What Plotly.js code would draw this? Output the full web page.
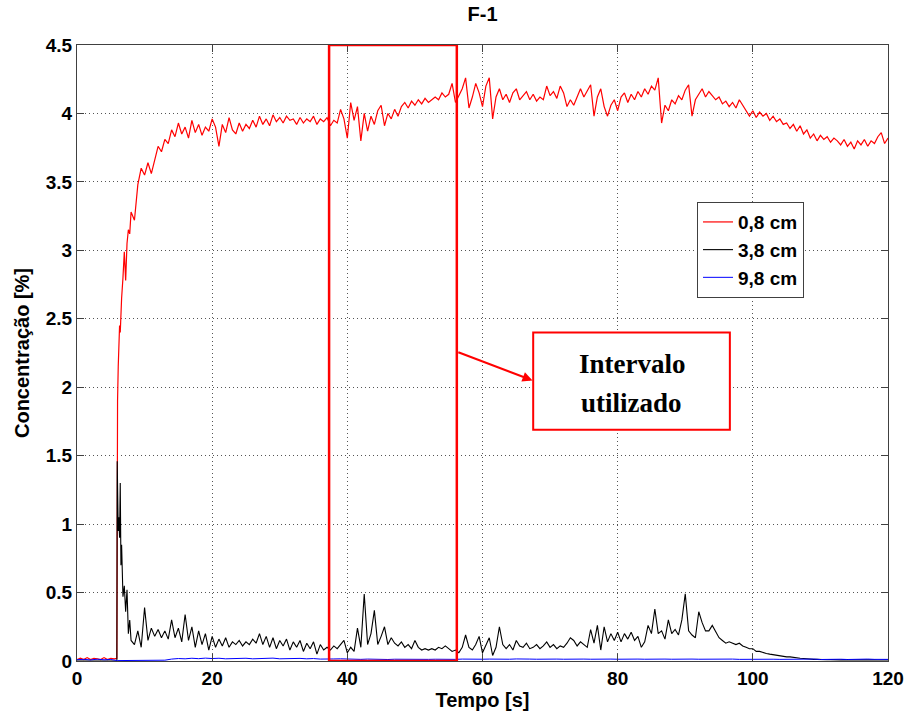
<!DOCTYPE html>
<html>
<head>
<meta charset="utf-8">
<script src="https://cdn.plot.ly/plotly-3.0.1.min.js"></script>
<style>html,body{margin:0;padding:0;background:#fff;}#chart{width:908px;height:715px;}</style>
</head>
<body>
<div id="chart"></div>
<script>
// Sampling times (s) shared by the 0,8 cm and 3,8 cm series
var times = [
0,0.5,1,1.5,2,2.5,3,3.5,4,4.5,5,5.5,
5.9,5.95,6,6.1,6.2,6.3,6.4,6.5,6.6,6.8,7,7.2,7.4,7.6,7.8,8,
8.5,9,9.5,10,
10.5,11,11.5,12,12.5,13,13.5,14,14.5,15,15.5,16,16.5,17,17.5,18,18.5,19,19.5,20,
20.5,21,21.5,22,22.5,23,23.5,24,24.5,25,25.5,26,26.5,27,27.5,28,28.5,29,29.5,30,
30.5,31,31.5,32,32.5,33,33.5,34,34.5,35,35.5,36,36.5,37,37.5,38,38.5,39,39.5,40,
40.5,41,41.5,42,42.5,43,43.5,44,44.5,45,45.5,46,46.5,47,47.5,48,48.5,49,49.5,50,
50.5,51,51.5,52,52.5,53,53.5,54,54.5,55,55.5,56,56.5,57,57.5,58,58.5,59,59.5,60,
60.5,61,61.5,62,62.5,63,63.5,64,64.5,65,65.5,66,66.5,67,67.5,68,68.5,69,69.5,70,
70.5,71,71.5,72,72.5,73,73.5,74,74.5,75,75.5,76,76.5,77,77.5,78,78.5,79,79.5,80,
80.5,81,81.5,82,82.5,83,83.5,84,84.5,85,85.5,86,86.5,87,87.5,88,88.5,89,89.5,90,
90.5,91,91.5,92,92.5,93,93.5,94,94.5,95,95.5,96,96.5,97,97.5,98,98.5,99,99.5,100,
100.5,101,101.5,102,102.5,103,103.5,104,104.5,105,105.5,106,106.5,107,107.5,108,108.5,109,109.5,110,
110.5,111,111.5,112,112.5,113,113.5,114,114.5,115,115.5,116,116.5,117,117.5,118,118.5,119,119.5,120
];

// 0,8 cm (red)
var conc08 = [
0.01,0.02,0.01,0.025,0.01,0.02,0.015,0.01,0.025,0.01,0.02,0.015,
0.02,1.45,1.9,2.15,2.3,2.45,2.4,2.6,2.65,2.8,2.99,2.78,3.05,3.15,3.12,3.28,
3.22,3.48,3.6,3.55,
3.64,3.56,3.67,3.76,3.72,3.81,3.78,3.88,3.83,3.93,3.85,3.9,3.82,3.95,3.86,3.92,3.84,3.9,3.87,3.96,
3.9,3.76,3.92,3.86,3.97,3.88,3.85,3.93,3.87,3.92,3.89,3.95,3.9,3.98,3.92,3.96,3.91,3.99,3.94,3.97,
3.93,3.98,3.95,3.96,3.92,3.97,3.93,3.96,3.94,3.98,3.92,3.96,3.94,3.97,3.91,3.95,3.93,4.03,3.96,3.82,
4.08,3.95,4.05,3.8,4.0,3.87,3.98,3.92,4.02,4.06,3.91,4.0,3.96,4.03,3.98,4.05,4.08,4.04,4.09,4.06,
4.1,4.07,4.11,4.08,4.1,4.12,4.1,4.15,4.12,4.14,4.22,4.08,4.13,4.18,4.26,4.04,4.12,4.22,4.15,4.05,
4.2,4.26,3.96,4.12,4.18,4.1,4.14,4.08,4.15,4.18,4.1,4.13,4.16,4.1,4.14,4.09,4.12,4.1,4.2,4.13,
4.16,4.11,4.2,4.15,4.05,4.1,4.06,4.12,4.18,4.12,4.17,4.21,3.98,4.12,4.18,4.05,3.98,4.06,4.1,4.02,
4.12,4.15,4.08,4.14,4.1,4.16,4.12,4.18,4.14,4.2,4.17,4.26,3.93,4.06,4.02,4.1,4.07,4.13,4.1,4.17,
4.21,3.98,4.1,4.14,4.18,4.12,4.16,4.13,4.1,4.12,4.07,4.09,4.05,4.08,4.04,4.1,4.06,4.02,3.98,4.02,
3.97,4.01,3.98,4.0,3.95,3.98,3.94,3.96,3.92,3.93,3.89,3.92,3.87,3.91,3.85,3.88,3.82,3.85,3.8,3.84,
3.81,3.83,3.79,3.82,3.8,3.77,3.81,3.76,3.79,3.74,3.8,3.77,3.81,3.76,3.8,3.78,3.83,3.86,3.78,3.82
];

// 3,8 cm (black)
var conc38 = [
0,0,0,0,0,0,0,0,0,0,0,0,
0,1.46,1.15,0.95,1.05,0.9,1.3,0.7,0.85,0.47,0.55,0.36,0.52,0.2,0.3,0.15,
0.12,0.22,0.1,0.39,
0.15,0.24,0.18,0.23,0.17,0.22,0.16,0.3,0.17,0.24,0.14,0.34,0.15,0.25,0.1,0.22,0.12,0.2,0.08,0.18,
0.1,0.16,0.11,0.17,0.1,0.14,0.12,0.15,0.11,0.14,0.12,0.16,0.13,0.2,0.12,0.18,0.1,0.17,0.09,0.15,
0.11,0.16,0.08,0.14,0.1,0.15,0.07,0.13,0.09,0.14,0.05,0.12,0.08,0.1,0.08,0.11,0.09,0.12,0.15,0.06,
0.1,0.07,0.24,0.1,0.49,0.12,0.2,0.37,0.12,0.18,0.25,0.12,0.17,0.13,0.11,0.14,0.1,0.12,0.09,0.15,
0.1,0.08,0.09,0.08,0.09,0.08,0.1,0.09,0.11,0.09,0.07,0.08,0.06,0.1,0.19,0.1,0.08,0.12,0.18,0.06,
0.11,0.17,0.04,0.1,0.25,0.12,0.09,0.12,0.08,0.15,0.11,0.1,0.13,0.09,0.1,0.12,0.09,0.11,0.14,0.1,
0.12,0.09,0.11,0.1,0.13,0.17,0.15,0.11,0.14,0.12,0.1,0.23,0.13,0.26,0.08,0.25,0.14,0.2,0.15,0.21,
0.14,0.2,0.16,0.21,0.15,0.18,0.1,0.14,0.26,0.2,0.38,0.2,0.22,0.16,0.3,0.2,0.23,0.19,0.3,0.49,
0.22,0.19,0.17,0.36,0.28,0.22,0.22,0.26,0.22,0.17,0.15,0.13,0.14,0.13,0.12,0.13,0.11,0.1,0.09,0.09,
0.07,0.07,0.06,0.055,0.05,0.045,0.04,0.04,0.035,0.03,0.03,0.025,0.02,0.02,0.018,0.015,0.015,0.012,0.012,0.01,
0.01,0.009,0.01,0.008,0.009,0.008,0.01,0.008,0.009,0.008,0.008,0.009,0.007,0.008,0.009,0.008,0.007,0.008,0.009,0.008
];

// 9,8 cm (blue), sampled every second
var timesBlue = [
0,1,2,3,4,5,6,7,8,9,10,11,12,13,
14,15,16,17,18,19,20,21,22,23,24,25,26,27,28,29,30,31,32,33,
34,35,36,37,38,39,40,41,42,43,44,45,46,47,48,49,50,51,52,53,
54,55,56,57,58,59,60,61,62,63,64,65,66,67,68,69,70,71,72,73,
74,75,76,77,78,79,80,81,82,83,84,85,86,87,88,89,90,91,92,93,
94,95,96,97,98,99,100,101,102,103,104,105,106,107,108,109,110,111,112,113,
114,115,116,117,118,119,120
];
var conc98 = [
0.01,0.012,0.008,0.013,0.009,0.011,0.003,0.004,0.002,0.004,0.003,0.005,0.004,0.006,
0.014,0.018,0.016,0.02,0.017,0.021,0.018,0.02,0.016,0.019,
0.017,0.02,0.016,0.019,0.017,0.021,0.016,0.018,0.015,0.019,
0.016,0.018,0.014,0.017,0.015,0.016,0.013,0.015,0.012,0.014,
0.012,0.014,0.011,0.013,0.012,0.014,0.011,0.013,0.012,0.013,
0.011,0.013,0.012,0.014,0.012,0.015,0.013,0.014,0.012,0.015,
0.013,0.015,0.012,0.014,0.013,0.015,0.012,0.014,0.013,0.015,
0.012,0.014,0.013,0.015,0.012,0.014,0.013,0.015,0.012,0.014,
0.013,0.015,0.012,0.014,0.013,0.015,0.012,0.014,0.013,0.014,
0.012,0.014,0.013,0.014,0.012,0.013,0.012,0.014,0.011,0.013,
0.012,0.013,0.011,0.013,0.012,0.014,0.011,0.013,0.012,0.013,
0.011,0.013,0.012,0.014,0.012,0.013,0.012
];

var seriesNames = ['0,8 cm', '3,8 cm', '9,8 cm'];
var intervalStart = 37.3, intervalEnd = 56.2;
var noteLines = ['Intervalo', 'utilizado'];

var SANS = 'Liberation Sans, Arial, sans-serif';
var SERIF = 'Liberation Serif, Times New Roman, serif';
var boldFont = function (s) { return {family: SANS, size: s, color: '#000', weight: 700}; };

var traces = [
  {x: times, y: conc08, type: 'scatter', mode: 'lines', name: seriesNames[0], line: {color: '#ff0000', width: 1.2}},
  {x: times, y: conc38, type: 'scatter', mode: 'lines', name: seriesNames[1], line: {color: '#000000', width: 1.1}},
  {x: timesBlue, y: conc98, type: 'scatter', mode: 'lines', name: seriesNames[2], line: {color: '#0000ff', width: 1}}
];

var axisCommon = {
  showline: true, linecolor: '#404040', linewidth: 1, mirror: 'ticks',
  ticks: 'inside', ticklen: 7, tickcolor: '#404040', tickwidth: 1,
  showgrid: true, gridcolor: '#555', griddash: '1px,3px', gridwidth: 1,
  zeroline: false, tickfont: boldFont(19)
};

var layout = {
  width: 908, height: 715,
  margin: {l: 77, r: 20, t: 45, b: 54},
  paper_bgcolor: '#fff', plot_bgcolor: '#fff',
  title: {text: 'F-1', font: boldFont(20), x: 0.5, xref: 'paper', y: 0.98, yref: 'container', yanchor: 'middle'},
  xaxis: Object.assign({}, axisCommon, {range: [0, 120], dtick: 20, tick0: 0,
    title: {text: 'Tempo [s]', font: boldFont(20), standoff: 2}}),
  yaxis: Object.assign({}, axisCommon, {range: [0, 4.5], dtick: 0.5, tick0: 0,
    title: {text: 'Concentração [%]', font: boldFont(20), standoff: 10}}),
  legend: {x: 0.7645, y: 0.745, xanchor: 'left', yanchor: 'top', bgcolor: '#fff',
    bordercolor: '#404040', borderwidth: 1, font: boldFont(19), tracegroupgap: 0, itemwidth: 30},
  shapes: [
    {type: 'rect', xref: 'x', yref: 'y', x0: intervalStart, x1: intervalEnd, y0: 0, y1: 4.5,
     line: {color: '#ff0000', width: 2.5}, layer: 'above'},
    {type: 'rect', xref: 'x', yref: 'y', x0: 67.5, x1: 96.6, y0: 1.69, y1: 2.40,
     line: {color: '#ff0000', width: 2}, fillcolor: '#ffffff', layer: 'above'}
  ],
  annotations: [
    {xref: 'x', yref: 'y', x: 67.4, y: 2.05, axref: 'x', ayref: 'y', ax: intervalEnd, ay: 2.26,
     text: '', showarrow: true, arrowcolor: '#ff0000', arrowwidth: 2, arrowhead: 2, arrowsize: 1, standoff: 0},
    {xref: 'x', yref: 'y', x: 82.05, y: 2.17, text: '<b>' + noteLines[0] + '</b>', showarrow: false,
     font: {family: SERIF, size: 27, color: '#000', weight: 700}},
    {xref: 'x', yref: 'y', x: 82.05, y: 1.885, text: '<b>' + noteLines[1] + '</b>', showarrow: false,
     font: {family: SERIF, size: 27, color: '#000', weight: 700}}
  ]
};

Plotly.newPlot('chart', traces, layout, {displayModeBar: false, staticPlot: true});
</script>
</body>
</html>
